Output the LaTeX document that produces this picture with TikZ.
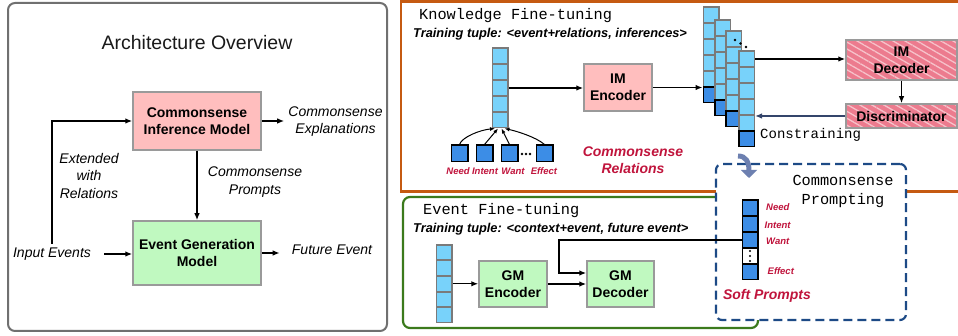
\documentclass[tikz,border=0pt]{standalone}
\usepackage{fontspec}
\setmainfont{Liberation Sans}
\setmonofont{Liberation Mono}
\usetikzlibrary{arrows.meta,patterns.meta,calc}
\definecolor{panelgray}{HTML}{707070}
\definecolor{boxgray}{HTML}{9A9A9A}
\definecolor{cpink}{HTML}{FFBEBE}
\definecolor{cgreen}{HTML}{C0F9C0}
\definecolor{hpink}{HTML}{EC7B8E}
\definecolor{hstripe}{HTML}{F6C2CA}
\definecolor{lblue}{HTML}{78D2FA}
\definecolor{dblue}{HTML}{3C8DE6}
\definecolor{cellgray}{HTML}{7A7A7A}
\definecolor{cred}{HTML}{C0143C}
\definecolor{corange}{HTML}{C55A11}
\definecolor{cgreenb}{HTML}{3B7A1C}
\definecolor{cdash}{HTML}{1D4A86}
\definecolor{carrow}{HTML}{6D80B0}
\definecolor{cslate}{HTML}{34456B}
\tikzset{
  mbox/.style={draw=boxgray, line width=1.5pt, inner sep=0pt, align=center,
    font=\fontsize{14}{17}\selectfont\bfseries},
  pinkbox/.style={mbox, fill=cpink},
  greenbox/.style={mbox, fill=cgreen},
  hatchbox/.style={mbox, fill=hpink, postaction={pattern color=hstripe,
    pattern={Lines[angle=-30,distance=6pt,line width=1.3pt]}, draw=boxgray, line width=1.5pt}},
  lcell/.style={draw=cellgray, fill=lblue, line width=1.5pt, minimum width=15.5pt,
    minimum height=15.5pt, inner sep=0pt},
  dcell/.style={lcell, draw=black, fill=dblue},
  wcell/.style={lcell, draw=black, fill=white},
  arr/.style={-{Latex[length=7pt,width=5.5pt]}, line width=1.3pt},
  sarr/.style={-{Latex[length=5pt,width=4pt]}, line width=1pt},
  itlab/.style={font=\fontsize{14}{17.5}\selectfont\itshape, align=center, inner sep=0pt},
  monolab/.style={font=\fontsize{15.3}{19}\selectfont\ttfamily, inner sep=0pt, align=center},
  tuple/.style={font=\fontsize{12.8}{15}\selectfont\bfseries\itshape, inner sep=0pt},
  redsmall/.style={text=cred, font=\fontsize{9.5}{11}\selectfont\bfseries\itshape, inner sep=0pt},
  redbig/.style={text=cred, font=\fontsize{14}{16.5}\selectfont\bfseries\itshape, align=center, inner sep=0pt},
  dashbox/.style={draw=cdash, line width=2.2pt, dash pattern=on 9pt off 5pt, rounded corners=6pt, fill=white, inner sep=0pt},
}
\begin{document}
\begin{tikzpicture}[x=1pt,y=-1pt]
\useasboundingbox (0,0) rectangle (958,336);
\begin{scope}
\clip (0,0) rectangle (958,336);
% panels
\draw[panelgray, line width=2pt, rounded corners=7pt] (8,3) rectangle (387,331);
\draw[corange, line width=2.2pt] (401,1.5) rectangle (975,191.5);
\draw[cgreenb, line width=2.2pt, rounded corners=7pt] (403,197) rectangle (758,328);

% ---------- left panel ----------
\node[font=\fontsize{19.5}{22}\selectfont, text=black!90] (title) at (197,43) {Architecture Overview};
\node[pinkbox, minimum width=128pt, minimum height=58pt] (cim) at (197,121) {Commonsense\\Inference Model};
\node[greenbox, minimum width=128pt, minimum height=64pt] (egm) at (197,253) {Event Generation\\Model};
\node[itlab] (expl) at (335.5,121.5) {Commonsense\\Explanations};
\node[itlab] (prm) at (255,182) {Commonsense\\Prompts};
\node[itlab] (extr) at (89,175.5) {Extended\\with\\Relations};
\node[itlab] (inp) at (52,254) {Input Events};
\node[itlab] (fut) at (332,250) {Future Event};
\draw[arr] (cim.south) -- (egm.north);
\draw[arr, shorten >=4pt] (cim.east) -- (cim.east -| expl.west);
\draw[arr, shorten >=12pt] (egm.east) -- (egm.east -| fut.west);
\draw[arr, shorten <=13pt] (inp.east) -- (inp.east -| egm.west);
\draw[arr, shorten <=4pt] (inp.north) |- (cim.west);

% ---------- knowledge fine-tuning ----------
\node[monolab, anchor=west] (kft) at (419,16) {Knowledge Fine-tuning};
\node[tuple, anchor=west] (ktup) at (413,34) {Training tuple: <event+relations, inferences>};
\foreach \i in {1,...,5} \node[lcell] (k\i) at (500,{40+16*\i}) {};
\node[pinkbox, minimum width=68pt, minimum height=47pt] (ime) at (618,87.5) {IM\\Encoder};
\draw[arr] (k3.east) -- (k3.east -| ime.west);

\foreach \n/\cx/\ty in {1/711/7,2/722.5/20,3/733.5/31,4/746.5/51}{
  \foreach \i in {1,...,5} \node[lcell] (m\n-\i) at (\cx,{\ty+16*\i-8}) {};
  \node[dcell] (m\n-6) at (\cx,{\ty+88}) {};
}
\fill (735,40) circle (1.3);
\fill (740.5,43.5) circle (1.3);
\fill (746,47) circle (1.3);
\draw[arr] (ime.east) -- (ime.east -| m1-1.west);

\node[hatchbox, minimum width=111pt, minimum height=40pt] (imd) at (901.5,60) {IM\\Decoder};
\node[hatchbox, minimum width=111pt, minimum height=24pt] (disc) at (901.5,116) {Discriminator};
\draw[arr] (m4-1.east) -- (m4-1.east -| imd.west);
\draw[arr] (imd.south) -- (disc.north);
\draw[arr, cslate] (disc.west) -- (disc.west -| m4-5.east);
\node[font=\fontsize{14}{16}\selectfont\ttfamily, inner sep=0pt, anchor=west] (cons) at (760,135) {Constraining};

\foreach \i/\x in {1/459.5,2/484.5,3/509.5,4/544.5}
  \node[dcell, minimum width=16.5pt, minimum height=16.5pt] (r\i) at (\x,153.5) {};
\fill (522,154) circle (1.3);
\fill (526,154) circle (1.3);
\fill (530,154) circle (1.3);
\node[redsmall] (ln1) at (458,171) {Need};
\node[redsmall] (ln2) at (485,171) {Intent};
\node[redsmall] (ln3) at (513,171) {Want};
\node[redsmall] (ln4) at (544,171) {Effect};
\draw[sarr] (r1.north) .. controls (462,137) and (480,130) .. ($(k5.south)+(-5,0)$);
\draw[sarr] (r2.north) -- ($(k5.south)+(-2,0)$);
\draw[sarr] (r3.north) -- ($(k5.south)+(1.5,0)$);
\draw[sarr] (r4.north) .. controls (536,137) and (516,131) .. ($(k5.south)+(4.5,0)$);
\node[redbig] (crel) at (633,160) {Commonsense\\Relations};

% ---------- event fine-tuning ----------
\node[monolab, anchor=west] (eft) at (423,211) {Event Fine-tuning};
\node[tuple, anchor=west] (etup) at (413,229) {Training tuple: <context+event, future event>};
\foreach \i in {1,...,5} \node[lcell, minimum height=15.1pt] (e\i) at (444,{237+15.6*\i}) {};
\node[greenbox, minimum width=68pt, minimum height=46pt] (gme) at (513,284) {GM\\Encoder};
\node[greenbox, minimum width=67pt, minimum height=46pt] (gmd) at (620.5,284) {GM\\Decoder};
\draw[arr] (e3.east) -- (e3.east -| gme.west);
\draw[arr] (gme.east) -- (gme.east -| gmd.west);

% ---------- commonsense prompting ----------
\node[dashbox, minimum width=190pt, minimum height=156pt] (cpbox) at (811,242) {};
\coordinate (ca1) at (738,156);
\coordinate (ca2) at (749,178);
\draw[carrow, line width=5pt, -{Triangle[length=8pt,width=16pt]}] (ca1) .. controls (746,156) and (749,162) .. (ca2);
\node[monolab] (cpt) at (843,191.5) {Commonsense\\Prompting};
\foreach \i in {1,2,3,5} \node[dcell] (s\i) at (750,{192+16*\i}) {};
\node[wcell] (s4) at (750,256) {};
\fill (750,251) circle (1.2);
\fill (750,256) circle (1.2);
\fill (750,261) circle (1.2);
\node[redsmall, anchor=west] (sn1) at (766,207) {Need};
\node[redsmall, anchor=west] (sn2) at (764.5,225) {Intent};
\node[redsmall, anchor=west] (sn3) at (766,241) {Want};
\node[redsmall, anchor=west] (sn4) at (767.5,271) {Effect};
\node[redbig] (sp) at (767,296) {Soft Prompts};
\coordinate (dj) at (559,273);
\draw[arr] (s3.west) -| (dj) -- (dj -| gmd.west);
\end{scope}
\end{tikzpicture}
\end{document}
